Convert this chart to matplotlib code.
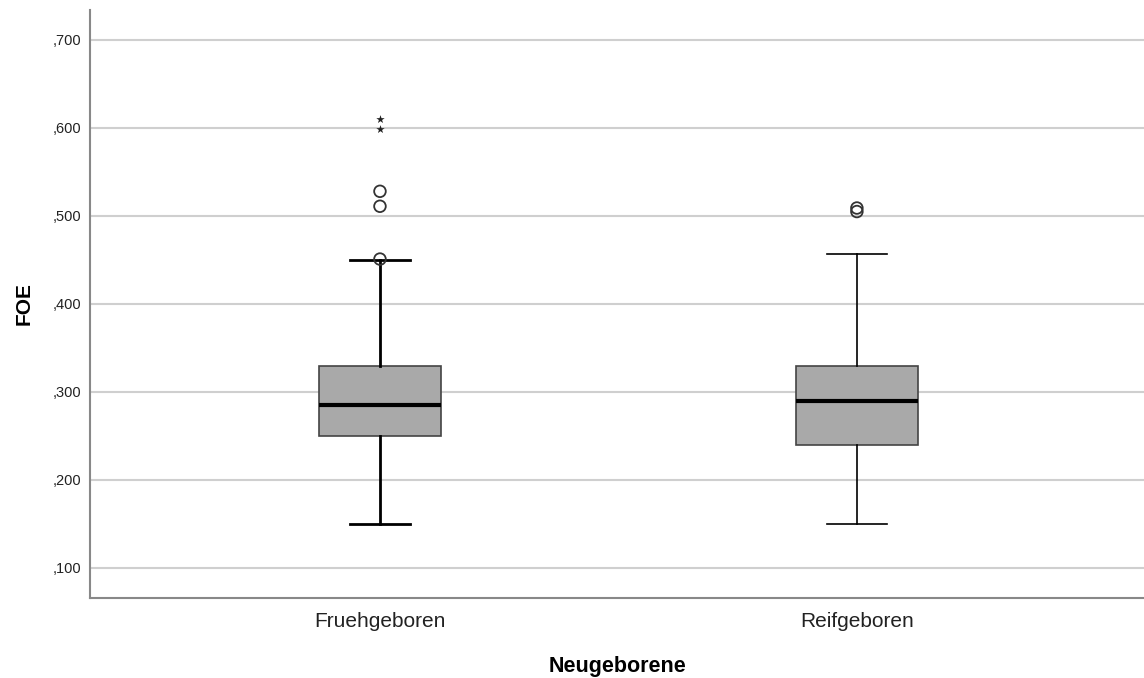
import matplotlib
matplotlib.use('Agg')
import matplotlib.pyplot as plt
from matplotlib.ticker import FuncFormatter

# five-number summaries
groups = ['Fruehgeboren', 'Reifgeboren']
whisker_low = [0.150, 0.150]
q1 = [0.250, 0.240]
median = [0.285, 0.290]
q3 = [0.330, 0.330]
whisker_high = [0.450, 0.457]

# outliers (circles) and extreme values (stars)
outliers = [[0.451, 0.511, 0.528], [0.505, 0.509]]
extremes = [[0.599, 0.610], []]

yticks = [0.1, 0.2, 0.3, 0.4, 0.5, 0.6, 0.7]

plt.rcParams['font.family'] = ['Liberation Sans', 'DejaVu Sans']


def spss_fmt(v, pos):
    # SPSS german style: ,700
    return '{:.3f}'.format(v).replace('0.', ',', 1)


fig = plt.figure(figsize=(11.44, 6.78), dpi=100)
ax = fig.add_axes([90 / 1144, 80 / 678, 1 - 90 / 1144, 588 / 678])

for y in yticks:
    ax.axhline(y, color='#cfcfcf', lw=1.5, zorder=0)

stats = []
for i, g in enumerate(groups):
    stats.append(dict(label=g, whislo=whisker_low[i], q1=q1[i], med=median[i],
                      q3=q3[i], whishi=whisker_high[i], fliers=[]))

line_w = [2.0, 1.2]
for i, st in enumerate(stats):
    ax.bxp([st], positions=[i], widths=0.255, patch_artist=True,
           showfliers=False,
           boxprops=dict(facecolor='#a9a9a9', edgecolor='#444444', lw=1.2),
           medianprops=dict(color='black', lw=3),
           whiskerprops=dict(color='black', lw=line_w[i]),
           capprops=dict(color='black', lw=line_w[i]),
           capwidths=0.127, manage_ticks=False)
    ax.scatter([i] * len(outliers[i]), outliers[i], s=70, facecolors='none',
               edgecolors='#333333', linewidths=1.3, zorder=3)
    if extremes[i]:
        ax.scatter([i] * len(extremes[i]), extremes[i], marker='*', s=40,
                   color='#222222', linewidths=0, zorder=3)

ax.set_xlim(-0.608, 1.602)
ax.set_ylim(0.0659, 0.734)
ax.set_xticks([0, 1])
ax.set_xticklabels(groups, fontsize=15)
ax.set_yticks(yticks)
ax.yaxis.set_major_formatter(FuncFormatter(spss_fmt))
ax.tick_params(axis='y', length=0, pad=6, labelsize=10.5, colors='#222222')
ax.tick_params(axis='x', length=0, pad=10, colors='#222222')

ax.set_xlabel('Neugeborene', fontsize=15.5, fontweight='bold', labelpad=18)
ax.set_ylabel('FOE', fontsize=15, fontweight='bold', labelpad=14)

for side in ['top', 'right']:
    ax.spines[side].set_visible(False)
for side in ['left', 'bottom']:
    ax.spines[side].set_color('#888888')
    ax.spines[side].set_linewidth(1.5)

fig.savefig('out.png', dpi=100)
